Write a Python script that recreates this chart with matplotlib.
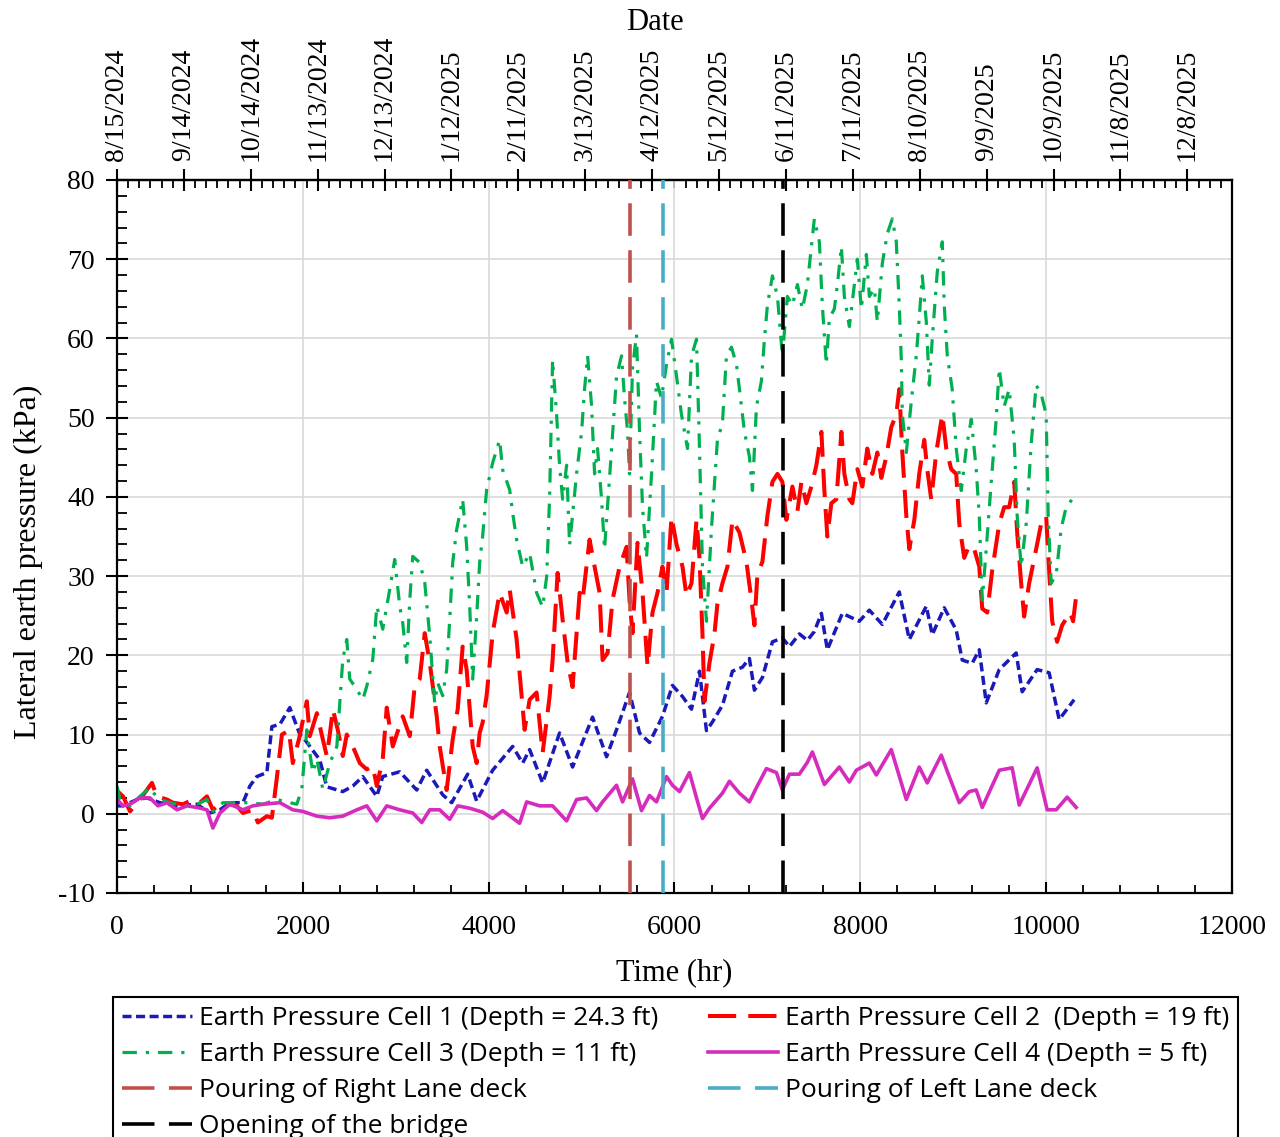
import matplotlib
matplotlib.use('Agg')
import matplotlib.pyplot as plt
from matplotlib.ticker import MultipleLocator
from datetime import datetime, timedelta

plt.rcParams['font.family'] = ['Liberation Serif', 'DejaVu Serif']
plt.rcParams['axes.unicode_minus'] = False

# ── data ───────────────────────────────────────────────
t_cell1 = [0, 65, 215, 323, 462, 645, 860, 1000, 1108, 1215, 1355, 1430, 1505, 1613, 1667, 1753,
           1860, 1968, 2000, 2183, 2258, 2430, 2538, 2645, 2796, 2860, 3043, 3226, 3333, 3505,
           3602, 3774, 3871, 4043, 4258, 4366, 4441, 4581, 4763, 4903, 5118, 5269, 5376, 5516,
           5624, 5731, 5871, 5978, 6086, 6183, 6269, 6344, 6409, 6516, 6624, 6731, 6806, 6860,
           6946, 7054, 7161, 7237, 7344, 7430, 7505, 7581, 7645, 7806, 7989, 8097, 8237, 8419,
           8527, 8710, 8774, 8903, 9032, 9097, 9204, 9280, 9355, 9495, 9677, 9742, 9903, 10032,
           10140, 10301]
p_cell1 = [1.0, 1.0, 1.8, 2.0, 1.4, 1.0, 1.2, 0.1, 0.5, 1.4, 1.4, 3.5, 4.7, 5.2, 11.0, 11.3,
           13.4, 10.0, 9.7, 6.8, 3.4, 2.8, 3.5, 4.7, 2.2, 4.7, 5.3, 3.0, 5.5, 2.4,
           1.4, 5.0, 1.6, 5.5, 8.5, 6.4, 8.1, 3.9, 10.2, 5.9, 12.2, 7.2, 10.6, 15.3,
           10.2, 9.0, 12.3, 16.2, 14.8, 13.2, 18.0, 10.5, 11.6, 13.7, 18.0, 18.5, 19.6, 15.6,
           17.2, 21.7, 22.2, 21.1, 22.7, 21.9, 23.0, 25.3, 20.7, 25.3, 24.3, 25.7, 23.9, 28.0,
           22.0, 26.2, 22.6, 26.0, 23.2, 19.4, 19.0, 20.7, 14.0, 18.2, 20.3, 15.4, 18.2, 17.8,
           11.9, 14.4]

t_cell2 = [0, 65, 140, 247, 376, 430, 538, 602, 710, 817, 892, 968, 1032, 1140, 1290, 1355,
           1462, 1516, 1613, 1667, 1720, 1775, 1850, 1892, 1960, 2043, 2075, 2151, 2215, 2258,
           2290, 2323, 2376, 2430, 2473, 2538, 2613, 2688, 2753, 2796, 2860, 2903, 2968, 3075,
           3151, 3204, 3258, 3312, 3366, 3441, 3473, 3548, 3613, 3667, 3720, 3763, 3828, 3871,
           3903, 3935, 3978, 4043, 4118, 4194, 4226, 4301, 4333, 4387, 4441, 4516, 4581, 4656,
           4688, 4742, 4796, 4850, 4903, 4979, 5011, 5086, 5140, 5194, 5226, 5280, 5333, 5409,
           5484, 5516, 5548, 5602, 5656, 5710, 5763, 5817, 5871, 5914, 5968, 6022, 6086, 6129,
           6183, 6237, 6269, 6301, 6323, 6376, 6430, 6462, 6516, 6570, 6624, 6699, 6774, 6828,
           6860, 6892, 6946, 7000, 7054, 7108, 7161, 7204, 7269, 7323, 7366, 7419, 7473, 7527,
           7581, 7613, 7645, 7688, 7742, 7796, 7828, 7882, 7914, 7968, 8022, 8075, 8129, 8183,
           8226, 8280, 8333, 8387, 8419, 8452, 8495, 8527, 8581, 8634, 8688, 8720, 8763, 8817,
           8882, 8925, 8978, 9032, 9065, 9118, 9172, 9226, 9280, 9312, 9366, 9419, 9495, 9548,
           9602, 9656, 9688, 9731, 9763, 9817, 9892, 9946, 10000, 10032, 10065, 10118, 10172,
           10258, 10290, 10323]
p_cell2 = [2.9, 2.2, 0.3, 1.8, 3.9, 2.2, 1.8, 1.4, 1.2, 1.8, 1.4, 2.2, 0.5, 1.4, 1.0, 0.1,
           0.5, -1.1, -0.3, -0.5, 4.5, 10.0, 10.5, 6.4, 9.5, 14.2, 9.8, 12.7, 9.4, 7.3,
           10.0, 13.2, 10.6, 7.3, 10.0, 8.5, 6.4, 5.6, 6.0, 3.5, 6.9, 13.4, 8.5, 12.3,
           9.8, 16.1, 17.0, 22.8, 19.1, 12.3, 8.5, 3.0, 9.4, 13.2, 21.1, 18.2, 8.5, 6.4,
           10.2, 11.5, 14.9, 22.8, 27.9, 25.4, 28.3, 22.0, 17.8, 10.6, 14.4, 15.3, 7.7, 14.8,
           19.4, 30.4, 24.5, 19.1, 16.0, 27.9, 27.0, 34.6, 31.2, 27.9, 19.4, 20.3, 27.0, 31.2,
           33.7, 27.0, 22.8, 34.2, 27.9, 18.6, 25.4, 27.9, 31.2, 27.9, 37.5, 34.0, 31.2, 27.5,
           29.1, 37.1, 32.3, 22.7, 14.2, 19.0, 22.7, 26.5, 29.1, 31.2, 37.1, 35.5, 31.8, 27.0,
           23.8, 30.2, 31.8, 37.6, 41.9, 42.9, 41.9, 37.1, 41.3, 38.2, 41.9, 39.2, 41.3, 44.0,
           48.2, 40.8, 35.0, 39.2, 39.7, 48.2, 42.9, 39.7, 39.2, 43.5, 41.3, 46.1, 42.9, 45.6,
           42.4, 45.1, 48.8, 50.4, 53.6, 45.6, 37.6, 33.4, 37.1, 42.9, 47.2, 43.5, 39.7, 45.6,
           50.4, 46.1, 43.5, 42.9, 36.6, 32.3, 33.9, 33.4, 31.2, 25.9, 25.4, 30.7, 36.6, 38.7,
           38.7, 41.9, 35.5, 29.1, 24.9, 29.1, 33.4, 36.6, 37.6, 30.7, 24.3, 21.7, 23.8,
           25.4, 24.3, 27.5]

t_cell3 = [0, 32, 140, 247, 355, 387, 462, 570, 710, 860, 968, 1032, 1140, 1290, 1430, 1570,
           1720, 1860, 1935, 1989, 2043, 2075, 2108, 2151, 2215, 2290, 2366, 2398, 2430, 2473,
           2505, 2581, 2645, 2688, 2753, 2796, 2860, 2935, 2989, 3043, 3075, 3118, 3151, 3183,
           3258, 3312, 3366, 3419, 3452, 3505, 3548, 3581, 3613, 3656, 3720, 3763, 3796, 3828,
           3871, 3903, 3935, 3978, 4043, 4118, 4151, 4226, 4258, 4301, 4366, 4441, 4516, 4581,
           4624, 4656, 4688, 4731, 4763, 4796, 4839, 4871, 4946, 5000, 5032, 5065, 5108, 5140,
           5172, 5215, 5247, 5323, 5376, 5430, 5462, 5495, 5516, 5548, 5591, 5624, 5656, 5699,
           5753, 5806, 5860, 5914, 5968, 6022, 6075, 6140, 6183, 6237, 6269, 6301, 6344, 6398,
           6462, 6516, 6559, 6613, 6667, 6699, 6753, 6806, 6839, 6882, 6935, 6968, 7000, 7054,
           7108, 7161, 7215, 7269, 7323, 7376, 7430, 7473, 7505, 7559, 7591, 7634, 7667, 7720,
           7753, 7796, 7828, 7882, 7935, 7968, 8011, 8065, 8097, 8151, 8183, 8237, 8290, 8344,
           8387, 8419, 8441, 8452, 8495, 8548, 8602, 8634, 8667, 8710, 8742, 8774, 8828, 8882,
           8903, 8936, 8989, 9032, 9086, 9140, 9194, 9247, 9280, 9312, 9355, 9409, 9462, 9495,
           9548, 9602, 9656, 9688, 9731, 9785, 9839, 9892, 9946, 10000, 10022, 10054, 10108,
           10161, 10215, 10280, 10290]
p_cell3 = [3.5, 1.8, 1.0, 2.2, 3.3, 2.7, 1.8, 1.4, 1.0, 1.2, 1.8, 0.3, 1.4, 1.4, 1.4, 1.2,
           1.8, 1.4, 1.2, 3.1, 10.6, 7.7, 5.2, 6.9, 3.1, 6.4, 8.5, 14.0, 19.5, 22.0,
           17.0, 15.7, 14.4, 16.1, 19.5, 26.2, 23.3, 28.3, 32.1, 26.2, 24.1, 19.1, 27.0, 32.5,
           31.7, 29.2, 22.4, 14.0, 16.5, 14.9, 18.2, 24.5, 31.7, 35.9, 39.7, 33.8, 26.2, 17.0,
           24.9, 31.7, 35.0, 40.9, 44.3, 47.2, 43.4, 40.9, 38.0, 34.6, 31.2, 32.9, 27.9, 26.1,
           29.9, 40.0, 57.3, 50.4, 44.0, 39.7, 44.0, 33.9, 42.9, 48.2, 53.6, 57.8, 51.4, 42.9,
           46.1, 39.7, 33.4, 46.1, 55.2, 57.8, 52.5, 48.2, 42.9, 56.2, 60.5, 48.2, 38.7, 32.3,
           42.9, 54.6, 52.5, 56.7, 59.9, 55.2, 50.4, 46.1, 57.8, 59.9, 46.1, 31.2, 24.3, 36.0,
           47.2, 49.3, 57.8, 58.9, 56.7, 53.6, 48.2, 45.1, 40.8, 51.4, 54.6, 59.9, 64.2, 67.9,
           65.3, 57.8, 65.3, 64.2, 66.8, 63.7, 66.8, 71.6, 75.1, 72.2, 64.2, 56.7, 62.6, 63.7,
           66.8, 71.6, 65.3, 61.5, 66.8, 70.0, 63.7, 70.6, 65.3, 66.3, 62.1, 69.5, 73.2, 75.1,
           72.2, 64.2, 57.3, 50.4, 45.6, 52.0, 57.8, 62.6, 67.9, 62.1, 54.1, 59.9, 68.4, 72.2,
           64.2, 57.8, 53.6, 46.1, 40.8, 46.1, 49.8, 43.5, 37.6, 27.0, 33.4, 41.9, 49.8, 56.2,
           51.4, 53.6, 47.2, 37.6, 31.2, 36.6, 46.7, 54.1, 53.0, 50.4, 37.6, 29.1, 30.2,
           36.0, 38.7, 39.7, 38.7]

t_cell4 = [0, 65, 140, 247, 355, 441, 538, 645, 753, 860, 968, 1032, 1108, 1215, 1355, 1462,
           1570, 1753, 1892, 2000, 2151, 2290, 2430, 2581, 2688, 2796, 2903, 3043, 3183, 3280,
           3366, 3473, 3581, 3667, 3796, 3935, 4043, 4151, 4333, 4409, 4548, 4688, 4839, 4946,
           5054, 5161, 5226, 5376, 5441, 5548, 5645, 5731, 5806, 5914, 5978, 6054, 6161, 6237,
           6301, 6376, 6516, 6591, 6699, 6806, 6882, 6989, 7097, 7161, 7237, 7344, 7430, 7484,
           7613, 7774, 7882, 7957, 8097, 8172, 8333, 8495, 8634, 8720, 8871, 8957, 9065, 9172,
           9247, 9312, 9495, 9634, 9710, 9903, 10011, 10108, 10226, 10323]
p_cell4 = [1.8, 1.0, 1.2, 2.0, 2.0, 1.0, 1.4, 0.5, 1.0, 0.8, 0.5, -1.8, 0.1, 1.2, 0.5, 1.0,
           1.2, 1.4, 0.5, 0.3, -0.3, -0.5, -0.3, 0.5, 1.0, -0.9, 1.0, 0.5, 0.1, -1.1,
           0.5, 0.5, -0.7, 1.0, 0.7, 0.2, -0.6, 0.4, -1.2, 1.5, 1.0, 1.0, -0.9, 1.8,
           2.0, 0.4, 1.5, 3.6, 1.5, 4.4, 0.4, 2.3, 1.5, 4.7, 3.6, 2.8, 5.2, 2.0,
           -0.6, 0.7, 2.6, 4.1, 2.6, 1.5, 3.3, 5.7, 5.2, 3.0, 5.0, 5.0, 6.5, 7.8,
           3.7, 5.9, 4.0, 5.5, 6.4, 4.9, 8.1, 1.8, 5.9, 3.9, 7.4, 4.7, 1.4, 2.8,
           3.0, 0.8, 5.5, 5.8, 1.1, 5.8, 0.5, 0.5, 2.1, 0.8]

events = [5516, 5871, 7172]  # hr
event_labels = ['Pouring of Right Lane deck', 'Pouring of Left Lane deck', 'Opening of the bridge']
event_colors = ['#C0504D', '#4BACC6', '#000000']

start_date = datetime(2024, 8, 15)

# ── canvas ──────────────────────────────────────────────
fig = plt.figure(figsize=(12.8, 11.37), dpi=100)
fig.patch.set_facecolor('white')
ax = fig.add_axes([0.0914, 0.2146, 0.8711, 0.6271])

l1, = ax.plot(t_cell1, p_cell1, color='#1A1AB8', lw=2.5, ls=(0, (2.6, 1.3)),
              label='Earth Pressure Cell 1 (Depth = 24.3 ft)', zorder=2)
l2, = ax.plot(t_cell2, p_cell2, color='#FF0000', lw=2.9, ls=(0, (7, 3)),
              label='Earth Pressure Cell 2  (Depth = 19 ft)', zorder=2)
l3, = ax.plot(t_cell3, p_cell3, color='#00B050', lw=2.3, ls=(0, (4.5, 2.8, 1, 2.8)),
              label='Earth Pressure Cell 3 (Depth = 11 ft)', zorder=2)
l4, = ax.plot(t_cell4, p_cell4, color='#D62CBE', lw=2.6, ls='-',
              label='Earth Pressure Cell 4 (Depth = 5 ft)', zorder=2)

ev = []
for x, lab, c in zip(events, event_labels, event_colors):
    ev.append(ax.axvline(x, color=c, lw=2.6, ls=(0, (9, 4)), label=lab, zorder=3))

ax.set_xlim(0, 12000)
ax.set_ylim(-10, 80)
ax.xaxis.set_major_locator(MultipleLocator(2000))
ax.xaxis.set_minor_locator(MultipleLocator(400))
ax.yaxis.set_major_locator(MultipleLocator(10))
ax.yaxis.set_minor_locator(MultipleLocator(2))
ax.grid(True, which='major', color='#D9D9D9', lw=1.2, zorder=0)
ax.set_axisbelow(True)
for s in ax.spines.values():
    s.set_linewidth(1.6)
    s.set_color('black')

ax.tick_params(axis='x', which='major', direction='in', length=8, width=1.5, labelsize=20, pad=16,
               top=False)
ax.tick_params(axis='x', which='minor', direction='in', length=6, width=1.3, top=False)
ax.tick_params(axis='y', which='major', direction='inout', length=16, width=1.5, labelsize=20, pad=8)
ax.tick_params(axis='y', which='minor', direction='in', length=7, width=1.3)

ax.set_xlabel('Time (hr)', fontsize=22)
ax.set_ylabel('Lateral earth pressure (kPa)', fontsize=23)
ax.xaxis.set_label_coords(0.5, -0.091)
ax.yaxis.set_label_coords(-0.066, 0.465)

# ── top date axis ───────────────────────────────────────
sec = ax.secondary_xaxis('top', functions=(lambda h: h / 24.0, lambda d: d * 24.0))
day_ticks = list(range(0, 481, 30))
day_labels = []
for d in day_ticks:
    dt = start_date + timedelta(days=d)
    day_labels.append(f'{dt.month}/{dt.day}/{dt.year}')
sec.set_xticks(day_ticks, day_labels)
sec.xaxis.set_minor_locator(MultipleLocator(5))
sec.tick_params(axis='x', which='major', direction='inout', length=16, width=1.5,
                labelsize=20, rotation=90, pad=6)
sec.tick_params(axis='x', which='minor', direction='in', length=6, width=1.3)
sec.spines['top'].set_linewidth(1.6)
fig.text(0.5117, 1 - 22 / 1137, 'Date', fontsize=22, ha='center', va='center')

# ── legend ──────────────────────────────────────────────
handles = [l1, l3, ev[0], ev[2], l2, l4, ev[1]]
leg = fig.legend(handles=handles, labels=[h.get_label() for h in handles],
                 loc='upper left', bbox_to_anchor=(0.0883, 1 - 997 / 1137, 0.879, 0.0),
                 mode='expand', ncol=2, borderaxespad=0, fancybox=False, edgecolor='black',
                 framealpha=1, handlelength=2.65, handletextpad=0.27, labelspacing=0.42,
                 borderpad=0.35, prop={'family': 'Open Sans', 'size': 19})
leg.get_frame().set_linewidth(1.5)

plt.savefig('out.png', dpi=100, facecolor='white')
plt.close()
